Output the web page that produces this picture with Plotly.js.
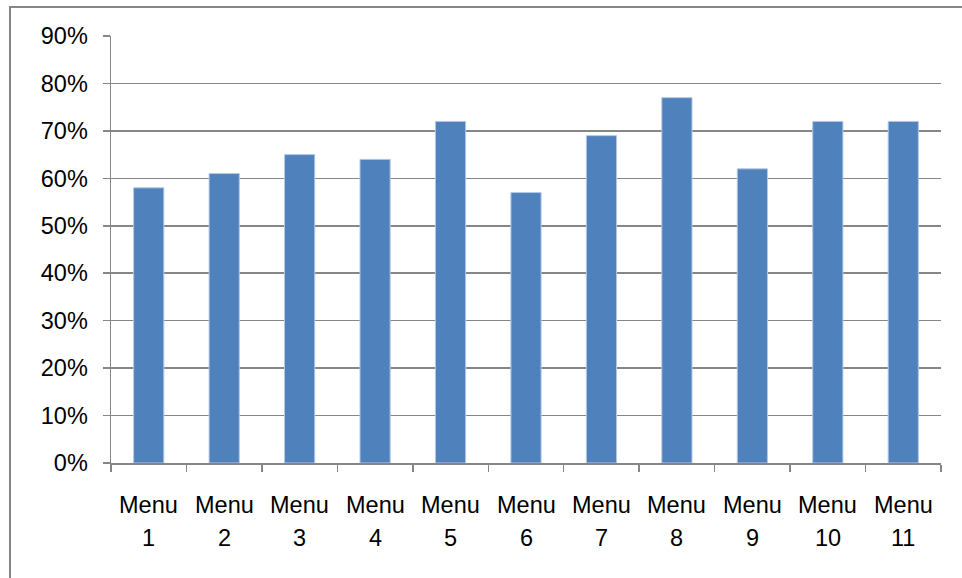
<!DOCTYPE html>
<html>
<head>
<meta charset="utf-8">
<script src="https://cdn.plot.ly/plotly-3.0.1.min.js"></script>
<style>
  html, body { margin: 0; padding: 0; background: #fff; }
  #chart { width: 962px; height: 578px; }
</style>
</head>
<body>
<div id="chart"></div>
<script>
// Share of respondents per menu
const menuWords = ["Menu", "Menu", "Menu", "Menu", "Menu", "Menu", "Menu", "Menu", "Menu", "Menu", "Menu"];
const menuNumbers = ["1", "2", "3", "4", "5", "6", "7", "8", "9", "10", "11"];
const shares = [0.58, 0.61, 0.65, 0.64, 0.72, 0.57, 0.69, 0.77, 0.62, 0.72, 0.72];

const categories = menuNumbers.map((n, i) => menuWords[i] + " " + n);

const gridGrey = "#868686";
const labelFont = { family: "Liberation Sans, Arial, sans-serif", size: 23.5, color: "#000" };

const trace = {
  type: "bar",
  x: categories,
  y: shares,
  marker: { color: "#4F81BD", line: { color: "#B4C8E3", width: 1 } },
  hoverinfo: "x+y"
};

// Two-line category labels: word on top, number below
const annotations = [];
categories.forEach((c, i) => {
  annotations.push({ x: c, xref: "x", y: -0.098, yref: "paper", text: menuWords[i],
    showarrow: false, yanchor: "middle", xanchor: "center", font: labelFont });
  annotations.push({ x: c, xref: "x", y: -0.176, yref: "paper", text: menuNumbers[i],
    showarrow: false, yanchor: "middle", xanchor: "center", font: labelFont });
});

const layout = {
  width: 962,
  height: 578,
  margin: { l: 111, r: 21, t: 36, b: 115 },
  paper_bgcolor: "#fff",
  plot_bgcolor: "#fff",
  showlegend: false,
  bargap: 0.6,
  xaxis: {
    type: "category",
    showticklabels: false,
    showgrid: false,
    showline: true,
    linecolor: gridGrey,
    linewidth: 1.5,
    ticks: "outside",
    tickson: "boundaries",
    ticklen: 7,
    tickcolor: gridGrey,
    tickwidth: 1.5,
    zeroline: false
  },
  yaxis: {
    range: [0, 0.9],
    dtick: 0.1,
    tick0: 0,
    tickformat: ".0%",
    showgrid: true,
    gridcolor: gridGrey,
    gridwidth: 1.5,
    showline: true,
    linecolor: gridGrey,
    linewidth: 1.5,
    ticks: "outside",
    ticklen: 7,
    tickcolor: gridGrey,
    tickwidth: 1.5,
    ticklabelstandoff: 10,
    zeroline: false,
    tickfont: labelFont
  },
  annotations: annotations,
  shapes: [{
    type: "rect", xref: "paper", yref: "paper",
    x0: -0.1217, x1: 1.3, y0: -0.6, y1: 1.068,
    line: { color: gridGrey, width: 2 }, fillcolor: "rgba(0,0,0,0)", layer: "below"
  }]
};

Plotly.newPlot("chart", [trace], layout, { displayModeBar: false, staticPlot: true });
</script>
</body>
</html>
